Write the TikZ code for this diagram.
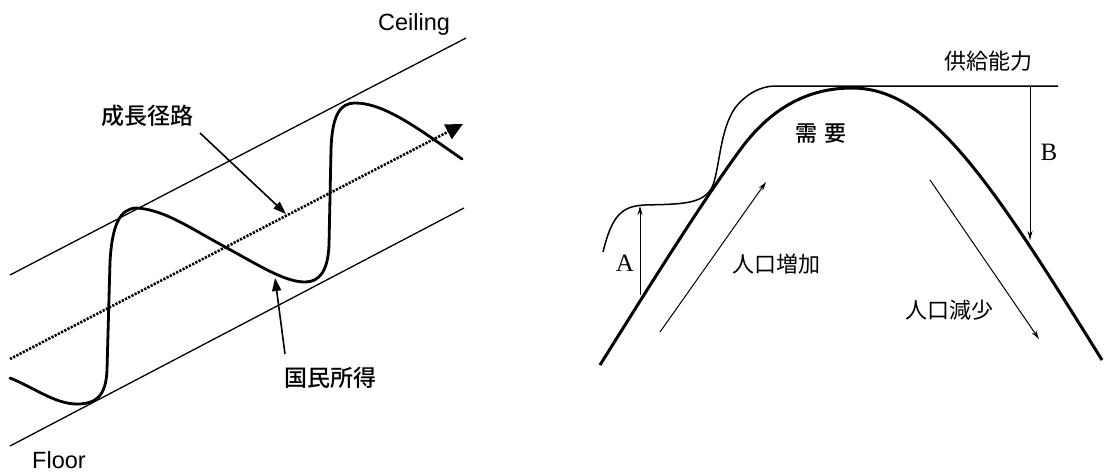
\documentclass[tikz,border=0pt]{standalone}
\usepackage{fontspec}
\setmainfont{Liberation Serif}
\setsansfont{Liberation Sans}
\newfontfamily\jp{Noto Sans CJK JP}
\newfontfamily\jpm{Noto Sans CJK JP}[UprightFont={* Medium}]
\usetikzlibrary{arrows.meta}
\tikzset{
  thinline/.style={line width=1.3pt},
  curve/.style={line width=2.8pt, line join=round, line cap=round},
  demand/.style={line width=3pt, line join=round},
  supply/.style={line width=1.5pt},
  path/.style={line width=2.6pt, dash pattern=on 2.2pt off 1.4pt, -{Triangle[length=17pt,width=16pt]}},
  lblarrow/.style={line width=1.6pt, -{Triangle[length=13pt,width=9pt]}},
  thinarrow/.style={line width=1pt, -{Stealth[length=9pt,width=5pt]}},
  jlabel/.style={font=\jpm\fontsize{23}{23}\selectfont, inner sep=0pt},
  jlabelr/.style={font=\jp\fontsize{22}{22}\selectfont, inner sep=0pt},
  elabel/.style={font=\sffamily\fontsize{23.5}{23.5}\selectfont, inner sep=0pt},
  letter/.style={font=\rmfamily\fontsize{25}{25}\selectfont, inner sep=0pt}
}
\begin{document}
\begin{tikzpicture}[x=1pt,y=-1pt]
\useasboundingbox (0,0) rectangle (1111,472);
% ---------- left panel ----------
\coordinate (c1) at (10,275); \coordinate (c2) at (466,38);
\coordinate (f1) at (10,446); \coordinate (f2) at (464,208);
\coordinate (g1) at (10,359); \coordinate (g2) at (463,124);
\draw[thinline] (c1) -- (c2);
\draw[thinline] (f1) -- (f2);
\draw[path] (g1) -- (g2);
\draw[curve] (10,378) .. controls (35,388) and (55,404) .. (77,404)
  .. controls (97,404) and (106,395) .. (107,370)
  -- (110,262) .. controls (112,225) and (120,208) .. (137,208)
  .. controls (165,210) and (190,228) .. (227,248)
  .. controls (260,266) and (285,282) .. (305,282)
  .. controls (320,282) and (328,270) .. (329,245)
  -- (331,150) .. controls (332,115) and (340,103) .. (355,103)
  .. controls (385,103) and (420,130) .. (462,159);
\node[elabel, anchor=base west] (ceil) at (378,30) {Ceiling};
\node[elabel, anchor=base west] (floor) at (32,468) {Floor};
\node[jlabel] (growth) at (147,116) {成長径路};
\node[jlabel] (income) at (330,378) {国民所得};
\coordinate (ga) at (200,133); \coordinate (gb) at (286,214);
\coordinate (ia) at (285,354); \coordinate (ib) at (275,278);
\draw[lblarrow] (ga) -- (gb);
\draw[lblarrow] (ia) -- (ib);
% ---------- right panel ----------
\draw[demand] (600,365) .. controls (650,285) and (700,205) .. (740,150)
  .. controls (775,102) and (815,88) .. (852,88)
  .. controls (930,88) and (990,180) .. (1102,360);
\draw[supply] (603,252) .. controls (612,215) and (622,206) .. (645,205)
  .. controls (680,204) and (705,205) .. (713,185)
  .. controls (720,165) and (720,130) .. (735,108)
  .. controls (745,95) and (760,86) .. (775,86) -- (1058,86);
\coordinate (a1) at (640,295); \coordinate (a2) at (640,206);
\coordinate (b1) at (1030,86); \coordinate (b2) at (1030,240);
\draw[thinarrow] (a1) -- (a2);
\draw[thinarrow] (b1) -- (b2);
\coordinate (p1) at (660,332); \coordinate (p2) at (766,182);
\coordinate (q1) at (930,180); \coordinate (q2) at (1039,339);
\draw[thinarrow] (p1) -- (p2);
\draw[thinarrow] (q1) -- (q2);
\node[letter] (A) at (625,263) {A};
\node[letter] (B) at (1049,152) {B};
\node[jlabel, font=\jpm\fontsize{22}{22}\selectfont] (dem) at (821,134) {需\hspace{7pt}要};
\node[jlabelr] (sup) at (988,61) {供給能力};
\node[jlabelr] (inc) at (776,264) {人口増加};
\node[jlabelr] (dec) at (949,310) {人口減少};
\end{tikzpicture}
\end{document}
